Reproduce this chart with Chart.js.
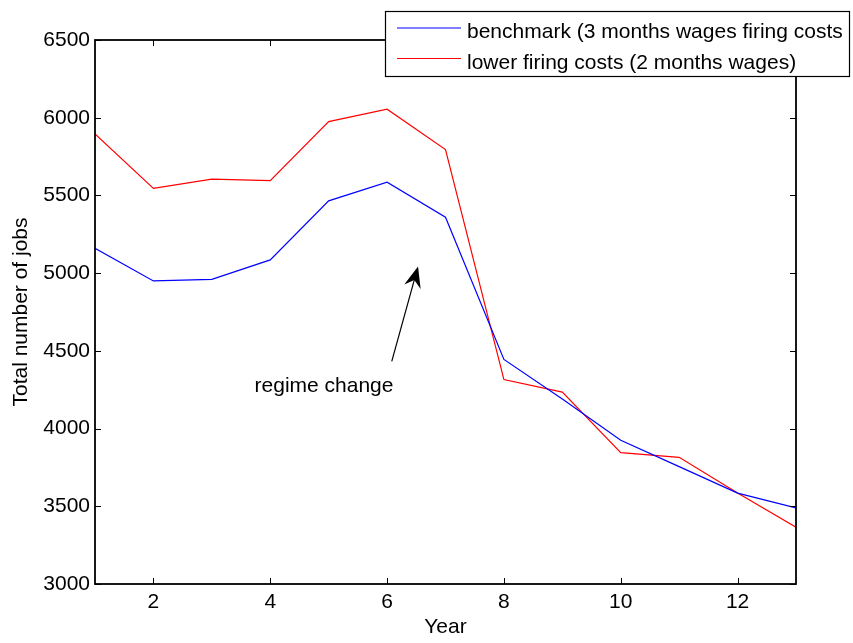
<!DOCTYPE html>
<html>
<head>
<meta charset="utf-8">
<script src="https://cdn.jsdelivr.net/npm/chart.js@4.4.0/dist/chart.umd.min.js"></script>
<style>
  html, body { margin: 0; padding: 0; background: #fff; }
  #wrap { width: 853px; height: 643px; }
</style>
</head>
<body>
<div id="wrap"><canvas id="jobs" width="853" height="643"></canvas></div>
<script>
// Total number of jobs per year under two firing-cost regimes
const years = [1, 2, 3, 4, 5, 6, 7, 8, 9, 10, 11, 12, 13];
const benchmark = [5160, 4950, 4960, 5085, 5465, 5585, 5360, 4445, 4190, 3925, 3755, 3585, 3490];
const lowerCosts = [5895, 5545, 5605, 5595, 5975, 6055, 5795, 4315, 4235, 3845, 3815, 3585, 3365];
const seriesLabels = ['benchmark (3 months wages firing costs', 'lower firing costs (2 months wages)'];
const seriesColors = ['#0000ff', '#ff0000'];
const xTicks = [2, 4, 6, 8, 10, 12];
const yTicks = [3000, 3500, 4000, 4500, 5000, 5500, 6000, 6500];
const xTitle = 'Year';
const yTitle = 'Total number of jobs';

// "regime change" note, in data units
const noteText = 'regime change';
const noteAt = { x: 4.92, y: 4275 };
const arrowFrom = { x: 6.08, y: 4432 };
const arrowTo = { x: 6.53, y: 5043 };

const FONT = 'Liberation Sans, Arial, Helvetica, sans-serif';
const FS = 21;

Chart.defaults.font.family = FONT;
Chart.defaults.font.size = FS;
Chart.defaults.color = '#000';

function toPoints(vals) {
  return years.map((x, i) => ({ x: x, y: vals[i] }));
}

// Box axes with inward ticks, the arrow note and the legend
const framePlugin = {
  id: 'frame',
  afterDraw(chart) {
    const { ctx, chartArea: a, scales: { x, y } } = chart;
    ctx.save();

    // inward ticks on all four sides
    ctx.strokeStyle = '#000';
    ctx.lineWidth = 1;
    const TL = 6;
    ctx.beginPath();
    xTicks.forEach(v => {
      const px = Math.round(x.getPixelForValue(v)) + 0.5;
      ctx.moveTo(px, a.bottom); ctx.lineTo(px, a.bottom - TL);
      ctx.moveTo(px, a.top); ctx.lineTo(px, a.top + TL);
    });
    yTicks.forEach(v => {
      const py = Math.round(y.getPixelForValue(v)) + 0.5;
      ctx.moveTo(a.left, py); ctx.lineTo(a.left + TL, py);
      ctx.moveTo(a.right, py); ctx.lineTo(a.right - TL, py);
    });
    ctx.stroke();

    // axes box
    ctx.lineWidth = 1.8;
    ctx.strokeRect(a.left, a.top, a.right - a.left, a.bottom - a.top);

    // arrow
    const tx = x.getPixelForValue(arrowFrom.x), ty = y.getPixelForValue(arrowFrom.y);
    const hx = x.getPixelForValue(arrowTo.x), hy = y.getPixelForValue(arrowTo.y);
    const len = Math.hypot(hx - tx, hy - ty);
    const dx = (hx - tx) / len, dy = (hy - ty) / len;
    const nx = -dy, ny = dx;
    const L = 21, W = 8.5, notch = 14;
    ctx.lineWidth = 1.2;
    ctx.beginPath();
    ctx.moveTo(tx, ty);
    ctx.lineTo(hx - dx * notch, hy - dy * notch);
    ctx.stroke();
    ctx.fillStyle = '#000';
    ctx.beginPath();
    ctx.moveTo(hx, hy);
    ctx.lineTo(hx - dx * L + nx * W, hy - dy * L + ny * W);
    ctx.lineTo(hx - dx * notch, hy - dy * notch);
    ctx.lineTo(hx - dx * L - nx * W, hy - dy * L - ny * W);
    ctx.closePath();
    ctx.fill();

    // note text
    ctx.font = FS + 'px ' + FONT;
    ctx.textAlign = 'center';
    ctx.textBaseline = 'middle';
    ctx.fillText(noteText, x.getPixelForValue(noteAt.x), y.getPixelForValue(noteAt.y));

    // legend box
    const bx = 385.5, by = 11.5, bw = 464, bh = 65;
    ctx.fillStyle = '#fff';
    ctx.fillRect(bx, by, bw, bh);
    ctx.lineWidth = 1.2;
    ctx.strokeStyle = '#000';
    ctx.strokeRect(bx, by, bw, bh);
    ctx.save();
    ctx.beginPath();
    ctx.rect(bx + 1, by + 1, bw - 2, bh - 2);
    ctx.clip();
    const rows = [{ lineY: 28, textY: 38 }, { lineY: 58.5, textY: 68.5 }];
    chart.data.datasets.forEach((ds, i) => {
      ctx.strokeStyle = ds.borderColor;
      ctx.lineWidth = 1.2;
      ctx.beginPath();
      ctx.moveTo(397, rows[i].lineY);
      ctx.lineTo(461, rows[i].lineY);
      ctx.stroke();
      ctx.fillStyle = '#000';
      ctx.textAlign = 'left';
      ctx.textBaseline = 'alphabetic';
      ctx.fillText(ds.label, 467, rows[i].textY);
    });
    ctx.restore();

    ctx.restore();
  }
};

new Chart(document.getElementById('jobs'), {
  type: 'line',
  data: {
    datasets: [
      { label: seriesLabels[0], data: toPoints(benchmark), borderColor: seriesColors[0], borderWidth: 1.2, pointRadius: 0, tension: 0, fill: false },
      { label: seriesLabels[1], data: toPoints(lowerCosts), borderColor: seriesColors[1], borderWidth: 1.2, pointRadius: 0, tension: 0, fill: false }
    ]
  },
  options: {
    responsive: false,
    animation: false,
    devicePixelRatio: 1,
    layout: { padding: { top: 40, right: 57, left: 0, bottom: 0 } },
    plugins: { legend: { display: false }, tooltip: { enabled: false } },
    scales: {
      x: {
        type: 'linear',
        min: 1, max: 13,
        afterBuildTicks: s => { s.ticks = xTicks.map(v => ({ value: v })); },
        afterFit: s => { s.height = 59; },
        grid: { display: false, drawTicks: false },
        border: { display: false },
        ticks: { padding: 6, color: '#000', font: { size: FS }, callback: v => String(v) },
        title: { display: true, text: xTitle, color: '#000', font: { size: FS }, padding: { top: 0, bottom: 3 } }
      },
      y: {
        type: 'linear',
        min: 3000, max: 6500,
        afterBuildTicks: s => { s.ticks = yTicks.map(v => ({ value: v })); },
        afterFit: s => { s.width = 95; },
        grid: { display: false, drawTicks: false },
        border: { display: false },
        ticks: { padding: 5, color: '#000', font: { size: FS }, callback: v => String(v) },
        title: { display: true, text: yTitle, color: '#000', font: { size: FS }, padding: { top: 9, bottom: 0 } }
      }
    }
  },
  plugins: [framePlugin]
});
</script>
</body>
</html>
